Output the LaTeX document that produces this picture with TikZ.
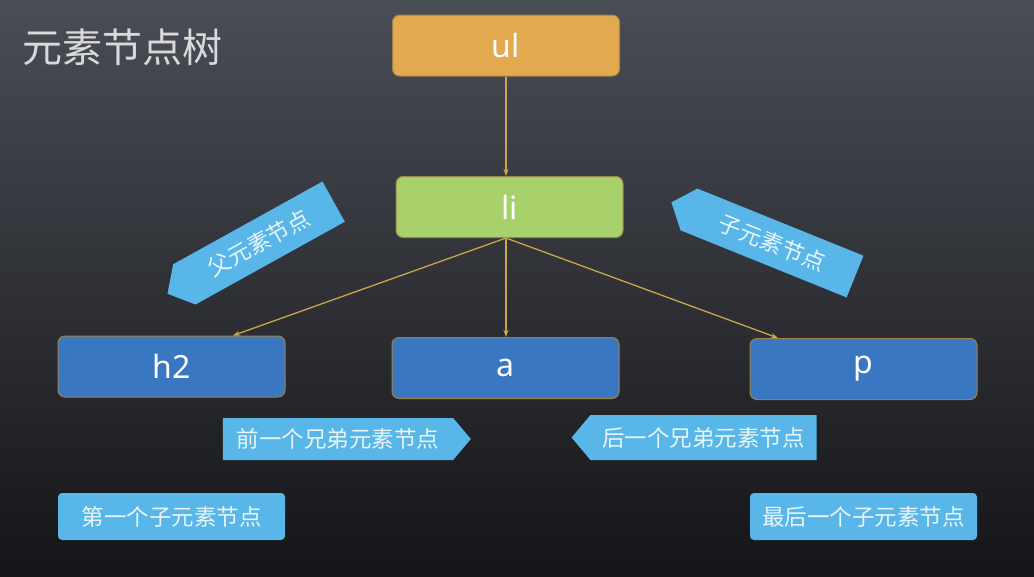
\documentclass[tikz,border=0pt]{standalone}
\usepackage{fontspec}
\setmainfont{Noto Sans}
\newfontfamily\cjk{Noto Sans CJK SC}
\usetikzlibrary{shapes.symbols,arrows.meta}
\definecolor{bgtop}{HTML}{4A4D56}
\definecolor{bgmid}{HTML}{2E3035}
\definecolor{bgbot}{HTML}{141517}
\definecolor{ulfill}{HTML}{E2A94F}
\definecolor{lifill}{HTML}{A8D16C}
\definecolor{elfill}{HTML}{3A77C2}
\definecolor{boxedge}{HTML}{9C8448}
\definecolor{tagblue}{HTML}{58B6E8}
\definecolor{tagtext}{HTML}{EAF5FB}
\definecolor{linkgold}{HTML}{C9A54B}
\begin{document}
\begin{tikzpicture}[x=1pt, y=-1pt, line join=round, >={Stealth[length=7pt,width=5pt]}]
	\tikzset{
		treebox/.style={draw=boxedge, line width=1pt, rounded corners=7pt, minimum width=227pt, minimum height=61pt, inner sep=0pt, text=white, font=\fontsize{32}{32}\selectfont},
		tagbox/.style={fill=tagblue, text=tagtext, inner sep=0pt, font=\cjk\fontsize{22.5}{22.5}\selectfont},
		tagsign/.style={tagbox, signal, signal pointer angle=100},
		link/.style={->, draw=linkgold, line width=1.3pt}
	}
	\shade[top color=bgtop, middle color=bgmid, bottom color=bgbot] (0,0) rectangle (1034,576);
	\useasboundingbox (0,0) rectangle (1034,576);
	\node[text=white!85!black, anchor=west, font=\cjk\fontsize{40}{40}\selectfont] (title) at (19,47) {元素节点树};
	% tree
	\node[treebox, fill=ulfill] (ul) at (506,45.5) {ul};
	\node[treebox, fill=lifill] (li) at (509.5,207) {li};
	\node[treebox, fill=elfill] (h2) at (171.5,366.5) {h2};
	\node[treebox, fill=elfill] (a) at (505.5,368) {a};
	\node[treebox, fill=elfill] (p) at (863.5,369) {p};
	\draw[link] (ul.south) -- (ul.south |- li.north);
	\draw[link] (li.south -| ul.south) -- (h2.north -| 233,0);
	\draw[link] (li.south -| ul.south) -- (a.north -| ul.south);
	\draw[link] (li.south -| ul.south) -- (p.north -| 778,0);
	% labels
	\node[tagsign, signal to=west, minimum width=190pt, minimum height=46pt, rotate=29] (parent) at (259,243) {父元素节点};
	\node[tagsign, signal to=west, minimum width=198pt, minimum height=45pt, rotate=-22] (child) at (772,243) {子元素节点};
	\node[tagsign, signal to=east, minimum width=248pt, minimum height=42pt] (prev) at (338,439) {前一个兄弟元素节点};
	\node[tagsign, signal to=west, minimum width=245pt, minimum height=45pt] (next) at (703.5,437.5) {后一个兄弟元素节点};
	\node[tagbox, rounded corners=4pt, minimum width=227pt, minimum height=47pt] (first) at (171.5,516.5) {第一个子元素节点};
	\node[tagbox, rounded corners=4pt, minimum width=227pt, minimum height=47pt] (last) at (863.5,516.5) {最后一个子元素节点};
\end{tikzpicture}
\end{document}
